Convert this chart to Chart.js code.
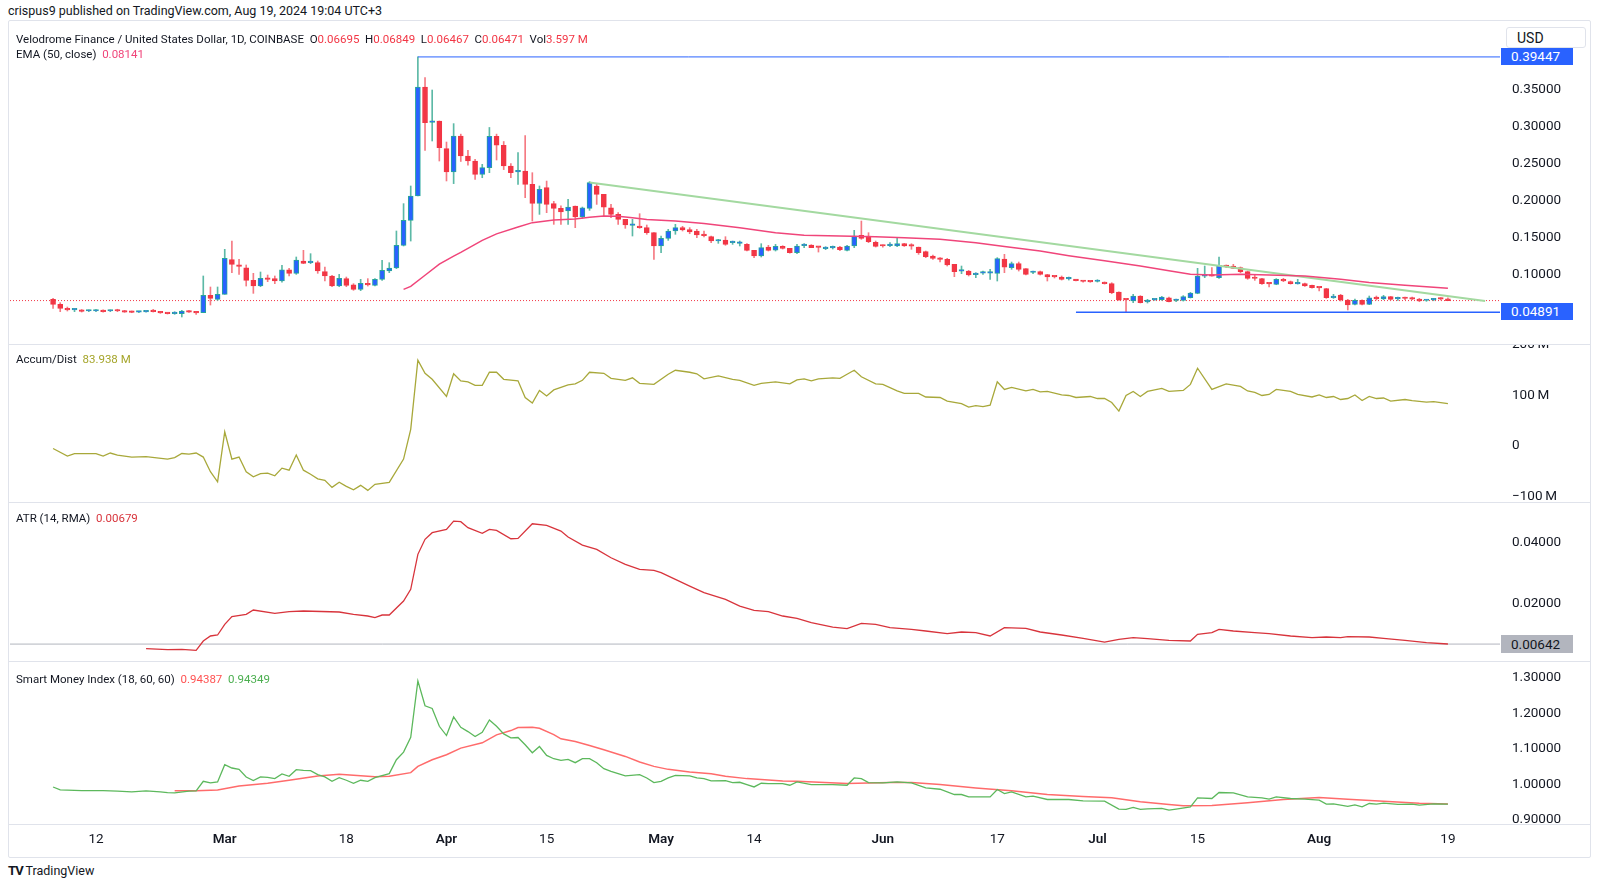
<!DOCTYPE html>
<html>
<head>
<meta charset="utf-8">
<script src="https://cdn.jsdelivr.net/npm/chart.js@4.4.1/dist/chart.umd.min.js"></script>
<style>
  html, body { margin: 0; padding: 0; background: #fff; }
  body { width: 1600px; height: 887px; position: relative; overflow: hidden;
         font-family: Roboto, "Noto Sans", sans-serif; color: #131722; }
  canvas { position: absolute; left: 10px; }
  .txt { position: absolute; white-space: nowrap; font-size: 11.5px; line-height: 14px; }
  .sep { position: absolute; left: 8px; width: 1582px; height: 1px; background: #e0e3eb; }
  .frame { position: absolute; left: 8px; top: 20px; width: 1581px; height: 836px;
           border: 1px solid #e0e3eb; border-radius: 2px; }
  .tag { position: absolute; left: 1501px; width: 72px; height: 17px; line-height: 17px;
         font-size: 13.5px; padding-left: 10px; box-sizing: border-box; }
  .red { color: #f23645; }
</style>
</head>
<body>
<div class="txt" style="left:8px;top:4px;font-size:12.5px;">crispus9 published on TradingView.com, Aug 19, 2024 19:04 UTC+3</div>
<div class="frame"></div>

<canvas id="priceChart" width="1580" height="324" style="top:21px"></canvas>
<canvas id="adChart" width="1580" height="158" style="top:345px"></canvas>
<canvas id="atrChart" width="1580" height="159" style="top:503px"></canvas>
<canvas id="smiChart" width="1580" height="162" style="top:662px"></canvas>
<canvas id="axisChart" width="1580" height="32" style="top:825px"></canvas>

<div class="sep" style="top:344px"></div>
<div class="sep" style="top:502px"></div>
<div class="sep" style="top:661px"></div>
<div class="sep" style="top:824px"></div>

<div class="txt" style="left:16px;top:32px;">Velodrome Finance / United States Dollar, 1D, COINBASE&nbsp; O<span class="red">0.06695</span>&nbsp; H<span class="red">0.06849</span>&nbsp; L<span class="red">0.06467</span>&nbsp; C<span class="red">0.06471</span>&nbsp; Vol<span class="red">3.597 M</span></div>
<div class="txt" style="left:16px;top:47px;">EMA (50, close)&nbsp; <span style="color:#f0457a">0.08141</span></div>
<div class="txt" style="left:16px;top:352px;">Accum/Dist&nbsp; <span style="color:#a5a52a">83.938 M</span></div>
<div class="txt" style="left:16px;top:511px;">ATR (14, RMA)&nbsp; <span style="color:#d8343c">0.00679</span></div>
<div class="txt" style="left:16px;top:672px;">Smart Money Index (18, 60, 60)&nbsp; <span style="color:#ff5252">0.94387</span>&nbsp; <span style="color:#4caf50">0.94349</span></div>

<div class="tag" style="top:48px;background:#2962ff;color:#fff;">0.39447</div>
<div class="tag" style="top:303px;background:#2962ff;color:#fff;">0.04891</div>
<div class="tag" style="top:635px;height:18px;line-height:18px;background:#b2b5be;color:#131722;">0.00642</div>
<div class="txt" style="left:1506px;top:27px;width:80px;height:21px;line-height:21px;font-size:14px;padding-left:10px;box-sizing:border-box;background:#fff;border:1px solid #e0e3eb;border-radius:3px;">USD</div>

<div class="txt" style="left:8px;top:864px;font-size:12.5px;"><b style="font-size:13px;letter-spacing:-1px;">TV</b> TradingView</div>

<script>
// day index 0 = Feb 6 2024, one candle per day up to Aug 19 (index 195)
const candleOpen = [
  .0663, .0596, .0540, .0522, .0517, .0506, .0506, .0512, .0506, .0520,
  .0510, .0501, .0490, .0494, .0515, .0497, .0483, .0470, .0470, .0506,
  .0497, .0483, .0718, .0664, .0732, .1201, .1129, .1092, .0921, .0844,
  .0948, .0944, .0912, .1065, .1016, .1183, .1160, .1160, .1038, .0980,
  .0844, .0944, .0862, .0799, .0880, .0853, .0935, .1047, .1088, .1395,
  .1733, .2063, .3538, .3060, .3078, .2703, .2387, .2875, .2604, .2536,
  .2356, .2446, .2870, .2750, .2468, .2390, .2400, .2220, .1962, .2175,
  .1959, .1895, .1859, .1927, .1778, .1895, .2198, .2085, .1904, .1814,
  .1747, .1665, .1656, .1634, .1566, .1386, .1489, .1589, .1634, .1607,
  .1589, .1544, .1512, .1453, .1467, .1431, .1422, .1408, .1327, .1250,
  .1372, .1331, .1381, .1354, .1295, .1390, .1399, .1372, .1350, .1360,
  .1372, .1327, .1386, .1530, .1521, .1435, .1390, .1392, .1386, .1417,
  .1388, .1372, .1309, .1250, .1223, .1205, .1138, .1045, .1047, .0998,
  .1018, .1018, .1016, .1210, .1093, .1147, .1079, .1027, .1038, .0998,
  .0973, .0966, .0942, .0930, .0909, .0905, .0906, .0894, .0876, .0763,
  .0661, .0641, .0709, .0628, .0657, .0659, .0686, .0648, .0650, .0686,
  .0745, .0978, .0982, .0957, .1124, .1115, .1093, .1038, .0950, .0944,
  .0878, .0867, .0935, .0903, .0874, .0876, .0853, .0824, .0808, .0686,
  .0722, .0655, .0596, .0650, .0596, .0695, .0668, .0700, .0671, .0679,
  .0670, .0668, .0648, .0657, .0670, .06695
];
const candleHigh = [
  .0676, .0619, .0560, .0538, .0526, .0520, .0524, .0522, .0520, .0530,
  .0515, .0506, .0501, .0510, .0528, .0501, .0485, .0497, .0515, .0512,
  .0501, .0980, .0831, .0831, .1341, .1453, .1205, .1129, .1016, .1034,
  .0993, .0980, .1124, .1083, .1237, .1327, .1282, .1183, .1102, .0989,
  .1002, .0966, .0876, .0935, .0944, .0944, .1192, .1160, .1589, .1959,
  .2198, .3945, .3664, .3497, .3078, .2793, .3042, .2900, .2680, .2560,
  .2491, .2990, .2900, .2800, .2500, .2650, .2880, .2378, .2198, .2265,
  .1990, .1930, .2017, .1927, .1913, .2257, .2220, .2085, .1949, .1837,
  .1747, .1747, .1823, .1670, .1566, .1521, .1611, .1679, .1652, .1634,
  .1611, .1589, .1521, .1476, .1512, .1453, .1453, .1417, .1327, .1417,
  .1395, .1408, .1390, .1354, .1408, .1417, .1404, .1372, .1377, .1386,
  .1381, .1395, .1598, .1724, .1566, .1453, .1400, .1431, .1490, .1422,
  .1417, .1372, .1318, .1264, .1228, .1219, .1138, .1115, .1056, .1025,
  .1047, .1070, .1228, .1273, .1169, .1169, .1079, .1047, .1047, .1002,
  .0980, .0980, .0966, .0935, .0915, .0910, .0930, .0900, .0889, .0767,
  .0668, .0732, .0714, .0664, .0668, .0704, .0695, .0668, .0714, .0758,
  .1084, .1115, .1093, .1237, .1129, .1138, .1102, .1047, .1002, .0948,
  .0885, .0944, .0948, .0912, .0935, .0885, .0858, .0826, .0812, .0732,
  .0732, .0664, .0668, .0659, .0709, .0709, .0718, .0704, .0695, .0695,
  .0695, .0677, .0659, .0677, .0686, .06849
];
const candleLow = [
  .0540, .0497, .0506, .0497, .0492, .0497, .0497, .0492, .0497, .0497,
  .0488, .0483, .0485, .0490, .0492, .0474, .0465, .0461, .0425, .0488,
  .0461, .0483, .0587, .0650, .0732, .1025, .1002, .0844, .0745, .0835,
  .0903, .0876, .0898, .0980, .1002, .1147, .1147, .1016, .0912, .0835,
  .0835, .0835, .0786, .0781, .0844, .0844, .0921, .1025, .1079, .1386,
  .1453, .2063, .2681, .2807, .2536, .2266, .2230, .2530, .2480, .2288,
  .2310, .2378, .2550, .2420, .2310, .2220, .2040, .1724, .1814, .1837,
  .1679, .1679, .1679, .1634, .1760, .1868, .1949, .1792, .1769, .1679,
  .1625, .1521, .1625, .1544, .1205, .1295, .1462, .1544, .1589, .1552,
  .1499, .1508, .1431, .1422, .1395, .1408, .1386, .1318, .1228, .1237,
  .1318, .1318, .1345, .1290, .1282, .1363, .1363, .1304, .1336, .1345,
  .1322, .1318, .1363, .1476, .1431, .1372, .1370, .1377, .1377, .1380,
  .1341, .1273, .1228, .1205, .1169, .1115, .0971, .1011, .0980, .0957,
  .1002, .0935, .0912, .1025, .1070, .1047, .0993, .1011, .0993, .0912,
  .0953, .0925, .0925, .0912, .0898, .0895, .0898, .0870, .0740, .0650,
  .0489, .0619, .0614, .0614, .0650, .0650, .0628, .0632, .0641, .0682,
  .0740, .0957, .0978, .0948, .1093, .1079, .1025, .0935, .0921, .0867,
  .0831, .0862, .0903, .0870, .0870, .0840, .0815, .0777, .0677, .0677,
  .0641, .0520, .0587, .0587, .0592, .0655, .0659, .0655, .0650, .0659,
  .0659, .0632, .0637, .0645, .0655, .06467
];
const candleClose = [
  .0596, .0540, .0522, .0526, .0500, .0510, .0510, .0497, .0515, .0506,
  .0492, .0488, .0494, .0501, .0497, .0480, .0470, .0483, .0506, .0492,
  .0480, .0718, .0677, .0732, .1219, .1138, .1111, .0921, .0844, .0948,
  .0935, .0912, .1065, .1016, .1196, .1151, .1169, .1047, .0980, .0844,
  .0948, .0853, .0799, .0880, .0858, .0935, .1056, .1088, .1395, .1733,
  .2063, .3538, .3055, .3078, .2717, .2387, .2875, .2604, .2536, .2356,
  .2446, .2870, .2750, .2468, .2378, .2400, .2220, .1962, .2153, .1949,
  .1895, .1846, .1913, .1778, .1904, .2243, .2085, .1913, .1814, .1747,
  .1670, .1670, .1634, .1566, .1386, .1489, .1589, .1634, .1602, .1575,
  .1535, .1526, .1453, .1460, .1408, .1437, .1428, .1327, .1250, .1363,
  .1327, .1381, .1354, .1295, .1386, .1399, .1363, .1368, .1356, .1366,
  .1336, .1386, .1521, .1490, .1444, .1381, .1386, .1398, .1417, .1386,
  .1384, .1296, .1241, .1219, .1205, .1129, .1038, .1049, .0993, .1004,
  .1022, .1022, .1214, .1101, .1147, .1070, .1002, .1031, .1002, .0966,
  .0969, .0935, .0946, .0917, .0905, .0901, .0910, .0876, .0754, .0655,
  .0657, .0709, .0619, .0655, .0661, .0695, .0632, .0652, .0700, .0749,
  .0980, .0982, .0978, .1124, .1106, .1084, .1038, .0948, .0946, .0876,
  .0874, .0935, .0912, .0876, .0878, .0844, .0822, .0820, .0686, .0709,
  .0655, .0587, .0650, .0596, .0686, .0668, .0700, .0664, .0675, .0675,
  .0666, .0641, .0652, .0661, .0666, .06471
];

// [day, value] readings of the indicator lines
const ema50 = [
  [49, .0799], [50, .0840], [52, .0990], [54, .1140], [56, .1250], [57, .1300], [60, .1462],
  [62, .1550], [65, .1643], [67, .1702], [70, .1738], [73, .1750], [75, .1775], [77, .1792],
  [79, .1787], [81, .1769], [83, .1745], [87, .1724], [91, .1690], [96, .1634], [101, .1566],
  [105, .1532], [110, .1520], [115, .1510], [119, .1499], [124, .1476], [129, .1431],
  [133, .1380], [138, .1318], [142, .1255], [147, .1185], [152, .1115], [156, .1050],
  [159, .1004], [162, .0993], [166, .1002], [170, .0994], [175, .0980], [180, .0935],
  [184, .0892], [189, .0853], [195, .0814]
];
const trendLine = [[75, .2244], [200.2, .0641]];
const highLevel = 0.39447, highLevelFrom = 51;
const lowLevel = 0.04891, lowLevelFrom = 143;
const lastPrice = 0.06471;

const accumDist = [
  [0, -5], [2, -20], [3, -15], [6, -15], [7, -20], [8, -14], [9, -18], [11, -22], [13, -21],
  [16, -26], [17, -23], [18, -15], [19, -16], [20, -14], [21, -22], [22, -51], [23, -71],
  [24, 28], [25, -26], [26, -22], [27, -51], [28, -61], [29, -55], [30, -54], [31, -59],
  [32, -44], [33, -48], [34, -18], [35, -48], [36, -56], [37, -65], [38, -68], [39, -82],
  [40, -72], [41, -80], [42, -87], [43, -78], [44, -88], [45, -76], [47, -72], [49, -26],
  [50, 33], [51, 170], [52, 144], [53, 132], [55, 98], [56, 143], [57, 129], [58, 127],
  [59, 120], [60, 120], [61, 146], [62, 146], [63, 132], [65, 129], [66, 96], [67, 85],
  [68, 110], [69, 99], [70, 111], [72, 121], [73, 123], [74, 130], [75, 146], [77, 144],
  [78, 134], [80, 130], [81, 135], [82, 124], [84, 122], [86, 142], [87, 150], [89, 146],
  [90, 143], [91, 133], [93, 139], [95, 132], [96, 130], [98, 120], [99, 124], [101, 127],
  [103, 123], [104, 131], [105, 133], [106, 129], [107, 133], [109, 135], [110, 134],
  [111, 142], [112, 150], [113, 137], [115, 123], [116, 122], [118, 109], [119, 104],
  [121, 104], [122, 97], [124, 96], [125, 89], [127, 84], [128, 77], [129, 80], [130, 78],
  [131, 81], [132, 127], [133, 112], [134, 116], [136, 109], [137, 112], [138, 107],
  [139, 108], [141, 101], [142, 100], [143, 96], [145, 98], [146, 94], [147, 94], [148, 86],
  [149, 69], [150, 100], [151, 108], [152, 98], [153, 108], [155, 114], [156, 108],
  [158, 110], [159, 122], [160, 154], [162, 112], [164, 123], [166, 118], [167, 109],
  [168, 106], [169, 100], [170, 102], [171, 112], [173, 108], [174, 102], [176, 97],
  [177, 101], [178, 96], [179, 98], [180, 92], [181, 94], [182, 101], [183, 90], [184, 98],
  [185, 94], [186, 95], [187, 89], [189, 92], [190, 90], [192, 87], [193, 88], [195, 84]
];

const atr14 = [
  [13, .00489], [16, .00455], [18, .00467], [20, .00433], [21, .00744], [22, .00911],
  [23, .00944], [24, .01298], [25, .01553], [27, .01630], [28, .01774], [31, .01663],
  [33, .01719], [35, .01741], [40, .01708], [42, .01630], [44, .01575], [45, .01520],
  [46, .01608], [47, .01608], [49, .02073], [50, .02461], [51, .03624], [52, .04123],
  [53, .04344], [55, .04453], [56, .04730], [57, .04709], [58, .04509], [60, .04321],
  [61, .04453], [62, .04420], [64, .04143], [65, .04154], [67, .04641], [69, .04586],
  [71, .04398], [72, .04198], [74, .03932], [76, .03788], [78, .03511], [80, .03290],
  [82, .03125], [84, .03092], [85, .03014], [87, .02793], [89, .02571], [91, .02350],
  [94, .02128], [96, .01906], [98, .01763], [100, .01719], [102, .01575], [104, .01497],
  [106, .01353], [109, .01209], [111, .01154], [113, .01331], [115, .01298], [117, .01188],
  [120, .01132], [122, .01077], [125, .00989], [127, .01044], [129, .01022], [131, .00911],
  [133, .01188], [136, .01165], [138, .01044], [141, .00944], [144, .00832], [147, .00711],
  [149, .00800], [151, .00855], [153, .00822], [156, .00767], [159, .00744], [160, .00966],
  [162, .01022], [163, .01132], [165, .01077], [168, .01022], [170, .00989], [173, .00911],
  [176, .00855], [178, .00877], [180, .00855], [181, .00889], [184, .00877], [186, .00833],
  [189, .00767], [192, .00689], [195, .00645]
];
const atrLevel = 0.00642;

const smiIndex = [
  [0, .9920], [1, .9838], [4, .9820], [7, .9820], [9, .9801], [11, .9782], [13, .9811],
  [15, .9782], [16, .9764], [17, .9754], [19, .9801], [20, .9811], [21, 1.0081], [22, 1.0035],
  [23, 1.0063], [24, 1.0548], [25, 1.0455], [26, 1.0417], [27, 1.0203], [28, 1.0100],
  [29, 1.0203], [30, 1.0193], [31, 1.0156], [32, 1.0287], [33, 1.0221], [34, 1.0408],
  [35, 1.0389], [36, 1.0380], [37, 1.0268], [38, 1.0203], [39, 1.0081], [40, 1.0184],
  [41, 1.0110], [42, 1.0025], [43, 1.0110], [44, 1.0081], [45, 1.0184], [47, 1.0296],
  [48, 1.0689], [49, 1.0903], [50, 1.1323], [51, 1.2910], [52, 1.2210], [53, 1.2135],
  [54, 1.1631], [55, 1.1370], [56, 1.1893], [57, 1.1603], [58, 1.1482], [59, 1.1342],
  [60, 1.1463], [61, 1.1809], [62, 1.1631], [63, 1.1417], [64, 1.1305], [65, 1.1314],
  [66, 1.1109], [67, 1.0884], [68, 1.1062], [69, 1.0810], [70, 1.0717], [71, 1.0670],
  [72, 1.0698], [73, 1.0605], [74, 1.0717], [75, 1.0717], [76, 1.0605], [77, 1.0436],
  [78, 1.0361], [79, 1.0296], [80, 1.0231], [82, 1.0268], [83, 1.0175], [84, 1.0044],
  [85, 1.0081], [86, 1.0175], [87, 1.0249], [89, 1.0231], [90, 1.0175], [91, 1.0156],
  [92, 1.0091], [94, 1.0100], [95, 1.0044], [96, 1.0053], [97, .9988], [98, .9922],
  [99, 1.0025], [100, 1.0016], [102, 1.0016], [103, .9969], [104, 1.0063], [106, .9988],
  [109, .9988], [111, .9969], [112, 1.0175], [113, 1.0156], [114, 1.0044], [116, 1.0035],
  [118, 1.0063], [120, 1.0035], [122, .9894], [124, .9857], [126, .9708], [127, .9708],
  [128, .9642], [131, .9642], [132, .9848], [133, .9736], [134, .9782], [136, .9642],
  [137, .9661], [139, .9568], [142, .9568], [144, .9531], [147, .9521], [149, .9297],
  [150, .9288], [151, .9344], [152, .9288], [153, .9306], [155, .9316], [156, .9269],
  [157, .9297], [159, .9362], [160, .9614], [162, .9596], [163, .9764], [165, .9754],
  [167, .9642], [169, .9614], [170, .9577], [171, .9642], [173, .9596], [175, .9577],
  [177, .9549], [178, .9437], [179, .9446], [181, .9372], [182, .9418], [183, .9362],
  [184, .9455], [185, .9437], [186, .9465], [188, .9428], [190, .9437], [191, .9409],
  [193, .9446], [195, .9435]
];
const smiSignal = [
  [17, .9811], [20, .9811], [23, .9838], [26, .9950], [30, 1.0025], [33, 1.0110], [37, 1.0231],
  [40, 1.0277], [42, 1.0249], [45, 1.0212], [47, 1.0221], [50, 1.0324], [51, 1.0501],
  [53, 1.0689], [55, 1.0829], [57, 1.1015], [60, 1.1165], [62, 1.1389], [64, 1.1510],
  [65, 1.1594], [67, 1.1603], [68, 1.1575], [70, 1.1398], [71, 1.1277], [73, 1.1202],
  [75, 1.1090], [77, 1.0968], [80, 1.0782], [82, 1.0623], [84, 1.0501], [86, 1.0417],
  [89, 1.0343], [92, 1.0296], [94, 1.0221], [97, 1.0156], [100, 1.0119], [102, 1.0091],
  [104, 1.0081], [111, 1.0016], [117, 1.0044], [120, 1.0044], [124, .9988], [129, .9894],
  [134, .9811], [139, .9708], [144, .9652], [148, .9614], [152, .9502], [156, .9428],
  [158, .9390], [162, .9400], [167, .9474], [172, .9568], [177, .9624], [181, .9577],
  [186, .9521], [191, .9465], [195, .9439]
];

const dateTickDays = [6, 24, 41, 55, 69, 85, 98, 116, 132, 146, 160, 177, 195];
const dateTickLabels = ["12", "Mar", "18", "Apr", "15", "May", "14", "Jun", "17", "Jul", "15", "Aug", "19"];
const dateTickIsMonth = [false, true, false, true, false, true, false, true, false, true, false, true, false];

const priceTicks = [0.10, 0.15, 0.20, 0.25, 0.30, 0.35];
const adTicks = [-100, 0, 100, 200];
const atrTicks = [0.02, 0.04];
const smiTicks = [0.9, 1.0, 1.1, 1.2, 1.3];

// visible range of the time axis (day index)
const X_MIN = -6.02, X_MAX = 202.28;

const FONT = "Roboto, 'Noto Sans', sans-serif";
const UP_BODY = "#2962ff", UP_EDGE = "#26a69a", UP_WICK = "#5cb9a6";
const DOWN_BODY = "#f23645", DOWN_WICK = "#f57a83";

const toXY = (pairs) => pairs.map(([d, v]) => ({ x: d, y: v }));

function lineSet(data, color, width, extra) {
  return Object.assign({
    type: "line", data, borderColor: color, borderWidth: width,
    pointRadius: 0, tension: 0, fill: false, order: 1
  }, extra || {});
}

function paneOptions(yMin, yMax, ticks, fmt) {
  return {
    responsive: false,
    animation: false,
    events: [],
    layout: { padding: 0 },
    plugins: { legend: { display: false }, tooltip: { enabled: false } },
    scales: {
      x: { type: "linear", display: false, min: X_MIN, max: X_MAX, offset: false },
      y: {
        position: "right", min: yMin, max: yMax,
        grid: { display: false, drawTicks: false },
        border: { display: false },
        afterBuildTicks: (ax) => { ax.ticks = ticks.map((v) => ({ value: v })); },
        afterFit: (ax) => { ax.width = 90; ax.paddingTop = 0; ax.paddingBottom = 0; },
        ticks: {
          padding: 12, color: "#131722", autoSkip: false,
          font: { family: FONT, size: 13.5 },
          callback: fmt
        }
      }
    }
  };
}

// ----- PRICE PANE -----
const up = candleClose.map((c, i) => c >= candleOpen[i]);
const days = candleOpen.map((_, i) => i);

new Chart(document.getElementById("priceChart"), {
  type: "bar",
  data: {
    datasets: [
      lineSet(toXY(ema50), "#f0457a", 1.5),
      lineSet(toXY(trendLine), "#a3d9a0", 2),
      lineSet([{ x: highLevelFrom, y: highLevel }, { x: X_MAX, y: highLevel }], "#2962ff", 1),
      lineSet([{ x: lowLevelFrom, y: lowLevel }, { x: X_MAX, y: lowLevel }], "#2962ff", 1.5),
      lineSet([{ x: X_MIN, y: lastPrice }, { x: X_MAX, y: lastPrice }], "#f23645", 1,
        { borderDash: [1, 2], order: 4 }),
      {
        data: days.map((i) => ({ x: i, y: [candleOpen[i], candleClose[i]] })),
        backgroundColor: days.map((i) => up[i] ? UP_BODY : DOWN_BODY),
        borderColor: days.map((i) => up[i] ? UP_EDGE : DOWN_BODY),
        borderWidth: 1, borderSkipped: false, barThickness: 5, minBarLength: 1.5,
        grouped: false, order: 2
      },
      {
        data: days.map((i) => ({ x: i, y: [candleLow[i], candleHigh[i]] })),
        backgroundColor: days.map((i) => up[i] ? UP_WICK : DOWN_WICK),
        borderWidth: 0, barThickness: 1, grouped: false, order: 3
      }
    ]
  },
  options: paneOptions(0.0046, 0.4431, priceTicks, (v) => v.toFixed(5))
});

// ----- ACCUM/DIST PANE -----
new Chart(document.getElementById("adChart"), {
  type: "line",
  data: { datasets: [lineSet(toXY(accumDist), "#a8a83a", 1.3)] },
  options: paneOptions(-113, 200, adTicks,
    (v) => v === 0 ? "0" : (v < 0 ? "\u2212" + Math.abs(v) : v) + "\u2009M")
});

// ----- ATR PANE -----
new Chart(document.getElementById("atrChart"), {
  type: "line",
  data: {
    datasets: [
      lineSet(toXY(atr14), "#d8343c", 1.3),
      lineSet([{ x: X_MIN, y: atrLevel }, { x: X_MAX, y: atrLevel }], "#b2b5be", 1, { order: 2 })
    ]
  },
  options: paneOptions(0.00047, 0.0533, atrTicks, (v) => v.toFixed(5))
});

// ----- SMART MONEY INDEX PANE -----
new Chart(document.getElementById("smiChart"), {
  type: "line",
  data: {
    datasets: [
      lineSet(toXY(smiIndex), "#5cb85c", 1.3),
      lineSet(toXY(smiSignal), "#ff6b6b", 1.5, { order: 2 })
    ]
  },
  options: paneOptions(0.8877, 1.3443, smiTicks, (v) => v.toFixed(5))
});

// ----- TIME AXIS -----
new Chart(document.getElementById("axisChart"), {
  type: "line",
  data: { datasets: [] },
  options: {
    responsive: false, animation: false, events: [],
    layout: { padding: { right: 90 } },
    plugins: { legend: { display: false }, tooltip: { enabled: false } },
    scales: {
      x: {
        type: "linear", position: "bottom", min: X_MIN, max: X_MAX, offset: false,
        grid: { display: false, drawTicks: false }, border: { display: false },
        afterBuildTicks: (ax) => { ax.ticks = dateTickDays.map((v) => ({ value: v })); },
        afterFit: (ax) => { ax.height = 28; ax.paddingLeft = 0; ax.paddingRight = 0; },
        ticks: {
          padding: 3, maxRotation: 0, autoSkip: false, color: "#131722",
          font: (ctx) => ({ family: FONT, size: 13.5, weight: dateTickIsMonth[ctx.index] ? "600" : "400" }),
          callback: (v, i) => dateTickLabels[i]
        }
      },
      y: { display: false }
    }
  }
});
</script>
</body>
</html>
